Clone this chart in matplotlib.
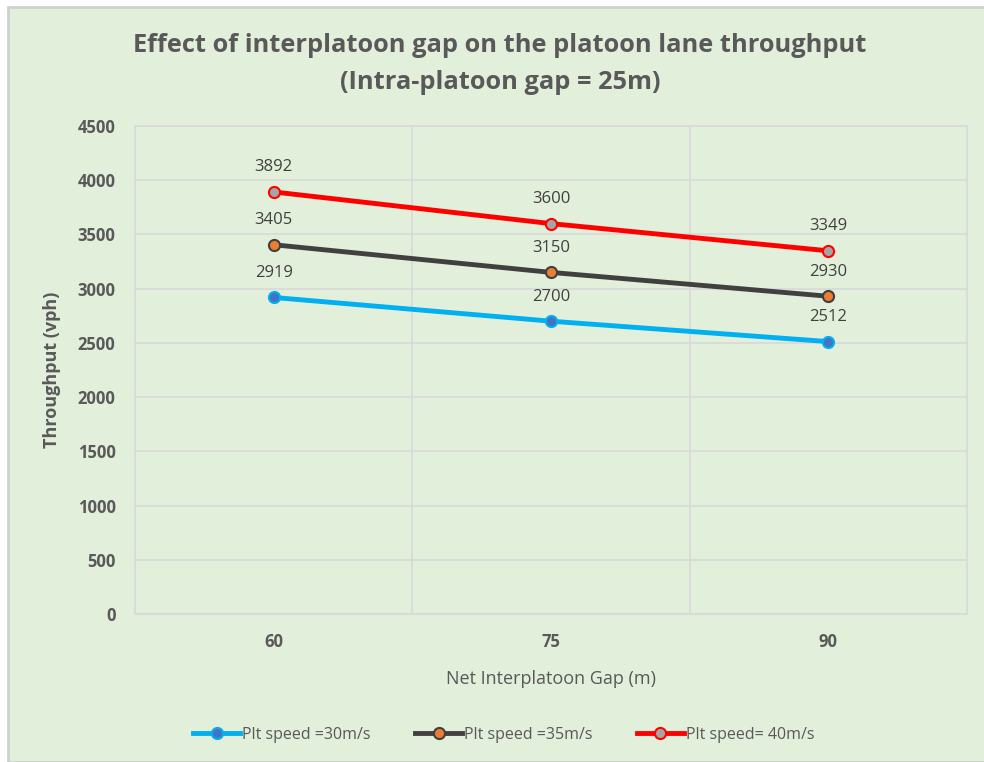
import matplotlib.pyplot as plt
from matplotlib.patches import Rectangle

gaps = ['60', '75', '90']
speed_30 = [2919, 2700, 2512]
speed_35 = [3405, 3150, 2930]
speed_40 = [3892, 3600, 3349]
labels = ['Plt speed =30m/s', 'Plt speed =35m/s', 'Plt speed= 40m/s']
yticks = [0, 500, 1000, 1500, 2000, 2500, 3000, 3500, 4000, 4500]

bg = '#E2EFDA'
txt = '#595959'
plt.rcParams['font.family'] = ['Open Sans', 'DejaVu Sans']

fig = plt.figure(figsize=(9.84, 7.62), dpi=100)
fig.patch.set_facecolor('white')
# chart frame
fig.patches.append(Rectangle((8 / 984, 0), 1, 755 / 762, transform=fig.transFigure,
                             facecolor=bg, edgecolor='#D0D0D0', linewidth=2, zorder=-5))

ax = fig.add_axes([135 / 984, 1 - 614 / 762, (967 - 135) / 984, (614 - 126) / 762])
ax.set_facecolor(bg)

x = range(len(gaps))
series = [
    (speed_30, '#00B0F0', '#4472C4'),
    (speed_35, '#404040', '#ED7D31'),
    (speed_40, '#FF0000', '#A5A5A5'),
]
for (vals, lc, mc), lab in zip(series, labels):
    ax.plot(x, vals, color=lc, linewidth=3.5, marker='o', markersize=8,
            markerfacecolor=mc, markeredgecolor=lc, markeredgewidth=1.5,
            label=lab, zorder=3)
    for xi, v in zip(x, vals):
        ax.annotate(str(v), (xi, v), xytext=(0, 12), textcoords='offset points',
                    ha='center', va='bottom', fontsize=12, color='#404040')

ax.set_xlim(-0.5, 2.5)
ax.set_ylim(0, 4500)
ax.set_yticks(yticks)
ax.set_xticks(list(x))
ax.set_xticklabels(gaps)
ax.grid(axis='y', color='#D9D9D9', linewidth=1.2)
for b in [0.5, 1.5]:
    ax.axvline(b, color='#D9D9D9', linewidth=1.2, zorder=1)
ax.set_axisbelow(True)
for s in ax.spines.values():
    s.set_color('#D9D9D9')
    s.set_linewidth(1.2)
ax.tick_params(length=0, labelsize=12, colors=txt, pad=14)
for t in ax.get_xticklabels() + ax.get_yticklabels():
    t.set_fontweight('bold')

ax.set_xlabel('Net Interplatoon Gap (m)', fontsize=13, color=txt, labelpad=13)
ax.set_ylabel('Throughput (vph)', fontsize=13, color=txt, fontweight='bold', labelpad=12)

fig.text(0.508, 0.916, 'Effect of interplatoon gap on the platoon lane throughput\n(Intra-platoon gap = 25m)',
         ha='center', va='center', fontsize=18.3, fontweight='bold', color=txt, linespacing=1.6)

ax.legend(loc='center', bbox_to_anchor=(0.4435, -0.247), ncol=3, frameon=False,
          fontsize=11.5, labelcolor=txt, handlelength=2.9, handletextpad=0.15, columnspacing=2.8)

fig.savefig('out.png', dpi=100)
